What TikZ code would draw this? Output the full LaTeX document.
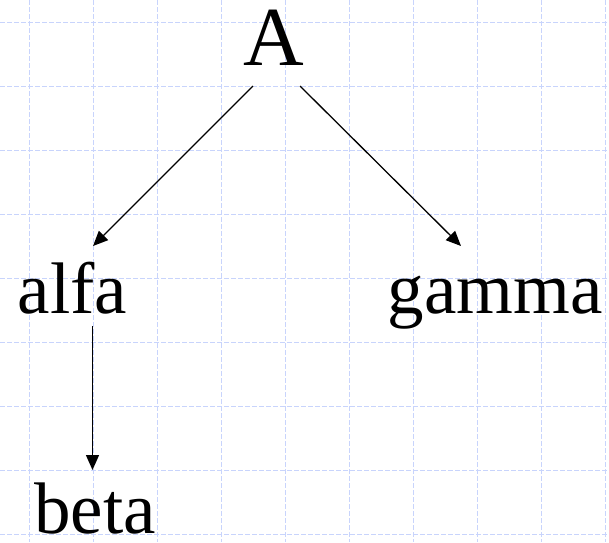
\documentclass[tikz,border=0pt]{standalone}
\usepackage{fontspec}
\setmainfont{Liberation Serif}
\usetikzlibrary{arrows.meta}
\definecolor{gridblue}{RGB}{200,212,252}
\tikzset{
  gridline/.style={draw=gridblue,line width=1pt,dash pattern=on 5pt off 2pt},
  lbl/.style={anchor=base,inner sep=0pt,font=\fontsize{73}{80}\selectfont},
  big/.style={anchor=base,inner sep=0pt,font=\fontsize{84}{90}\selectfont},
  arr/.style={draw=black,line width=1.3pt,-{Triangle[length=15pt,width=13pt]}}
}
\begin{document}
\begin{tikzpicture}[x=1pt,y=1pt]
\useasboundingbox (0,0) rectangle (609,-542);
\fill[white] (0,0) rectangle (609,-542);
\foreach \i in {0,...,9} {\draw[gridline] (29+64*\i,0) -- (29+64*\i,-542);}
\foreach \j in {0,...,8} {\draw[gridline] (0,-22-64*\j) -- (609,-22-64*\j);}
\node[big] (A) at (273.5,-65) {A};
\node[lbl] (alfa) at (72.5,-313) {alfa};
\node[lbl] (gamma) at (495,-313) {gamma};
\node[lbl] (beta) at (95,-533) {beta};
\draw[arr] ([shift={(-20.5,-21)}]A.base) -- ([shift={(20.5,67)}]alfa.base);
\draw[arr] ([shift={(26.5,-21)}]A.base) -- ([shift={(-34,67)}]gamma.base);
\draw[arr] ([shift={(20,-13)}]alfa.base) -- ([shift={(-2.5,63)}]beta.base);
\end{tikzpicture}
\end{document}
